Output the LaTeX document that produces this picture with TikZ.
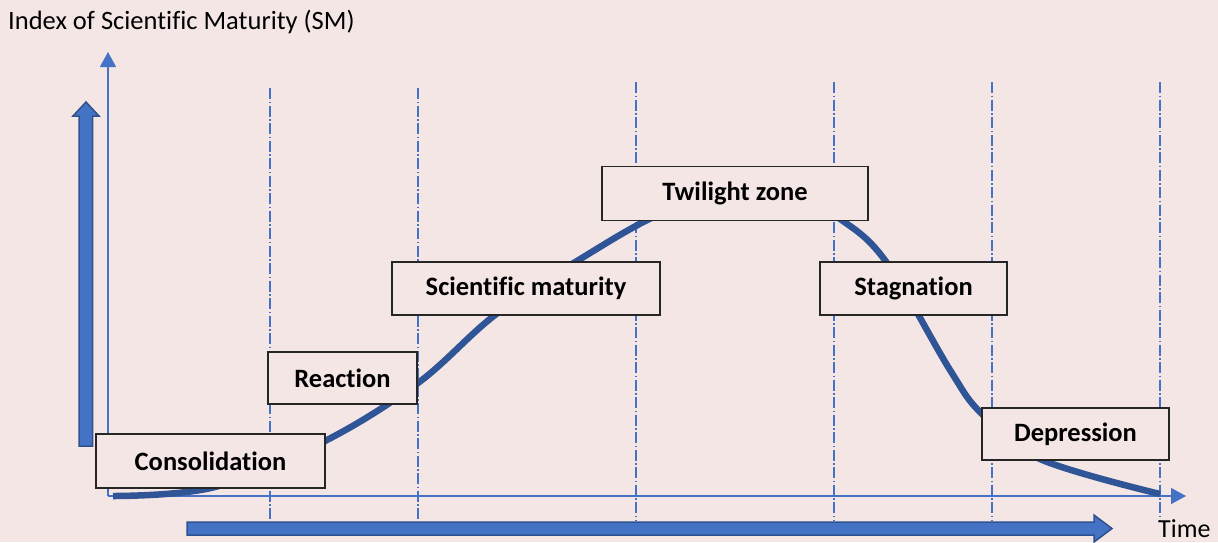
\documentclass[tikz,border=0pt]{standalone}
\usepackage{fontspec}
\setmainfont{Carlito}[Ligatures=NoCommon]
\usetikzlibrary{arrows.meta}
\definecolor{bgpink}{RGB}{245,230,230}
\definecolor{axisblue}{RGB}{68,114,196}
\definecolor{curveblue}{RGB}{47,85,151}
\definecolor{arrowedge}{RGB}{47,82,143}
\definecolor{boxedge}{RGB}{38,38,38}
\tikzset{
  stagebox/.style={draw=boxedge, line width=1.3pt, fill=bgpink, inner sep=0pt,
    font=\fontsize{26.5}{30}\selectfont\bfseries, text=black},
  divider/.style={axisblue, line width=1.1pt, dash pattern=on 11pt off 2.5pt on 1.5pt off 2.5pt},
  axisline/.style={axisblue, line width=1.4pt, -{Triangle[width=16pt,length=15pt]}},
  blockarrow/.style={fill=axisblue, draw=arrowedge, line width=1.5pt},
}
\begin{document}
\begin{tikzpicture}[x=1pt,y=-1pt]
\fill[bgpink] (0,0) rectangle (1218,542);
\useasboundingbox (0,0) rectangle (1218,542);
% divider lines
\foreach \xx/\yy in {270/88, 418/88, 636/82, 834/82, 992/82, 1160/82}{
  \draw[divider] (\xx,\yy) -- (\xx,521);
}
% axes
\coordinate (origin) at (108,496);
\coordinate (ytip) at (108,52);
\coordinate (xtip) at (1186,496);
\draw[axisline] (origin) -- (ytip);
\draw[axisline] (origin) -- (xtip);
% curve
\draw[curveblue, line width=6.5pt, line cap=butt] plot[smooth, tension=0.6] coordinates {
 (113,496) (215,487) (325,441) (418,383) (495,315) (577,261) (665,212)
 (740,197) (800,201) (843,221) (887,263) (950,370) (982,414) (1040,459) (1160,494)};
% stage boxes
\node[stagebox, minimum width=229pt, minimum height=54pt] (cons) at (210.5,461) {Consolidation};
\node[stagebox, minimum width=149pt, minimum height=52pt] (reac) at (342.5,378) {Reaction};
\node[stagebox, minimum width=268pt, minimum height=53pt] (scim) at (526,288.5) {Scientific maturity};
\node[stagebox, minimum width=266pt, minimum height=54pt] (twil) at (735,193.5) {Twilight zone};
\node[stagebox, minimum width=187pt, minimum height=53pt] (stag) at (913.5,288.5) {Stagnation};
\node[stagebox, minimum width=187pt, minimum height=52pt] (depr) at (1075.5,434) {Depression};
% block arrows
\draw[blockarrow] (79,446) -- (79,116) -- (73,116) -- (86,102) -- (99,116) -- (92.5,116) -- (92.5,446) -- cycle;
\draw[blockarrow] (187,522) -- (1094,522) -- (1094,515) -- (1112,528.5) -- (1094,542) -- (1094,535) -- (187,535) -- cycle;
% labels
\node[anchor=west, font=\fontsize{26.5}{30}\selectfont, inner sep=0pt] (title) at (8,22) {Index of Scientific Maturity (SM)};
\node[anchor=west, font=\fontsize{26}{30}\selectfont, inner sep=0pt] (time) at (1158,529) {Time};
\end{tikzpicture}
\end{document}
